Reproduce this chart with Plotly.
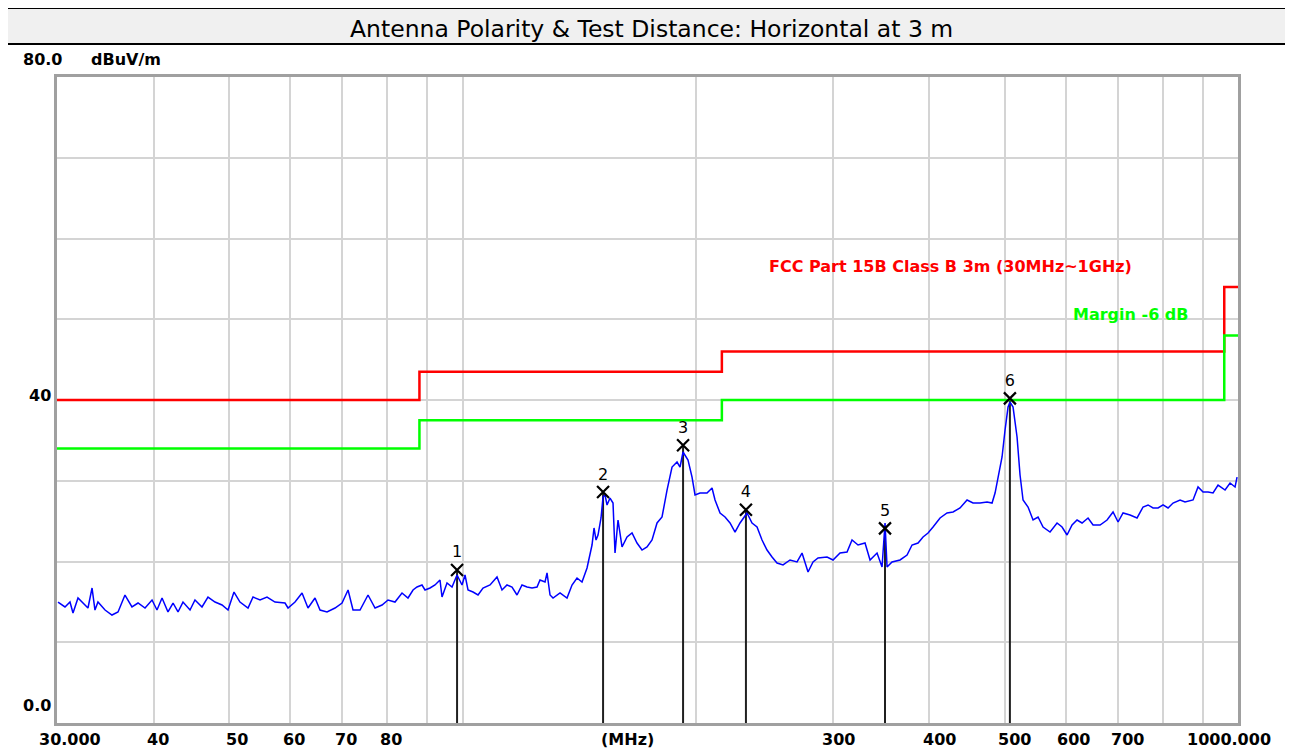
import numpy as np
import plotly.graph_objects as go

# measured trace (MHz, dBuV/m)
trace_freq = [
    30.09, 30.72, 31.18, 31.46, 31.93, 32.41, 32.89, 33.29, 33.58, 33.88,
    34.60, 35.32, 35.96, 36.71, 37.48, 38.16, 38.96, 39.78, 40.37, 40.98,
    41.71, 42.34, 42.97, 43.61, 44.53, 45.19, 46.14, 46.97, 47.96, 48.97,
    49.85, 50.74, 51.65, 52.90, 53.69, 54.82, 55.97, 57.31, 59.04, 59.57,
    60.82, 62.10, 63.21, 64.54, 65.51, 66.88, 68.49, 69.93, 71.19, 72.25,
    73.77, 75.54, 77.13, 78.75, 80.16, 81.84, 83.56, 85.06, 86.34, 87.37,
    88.67, 89.47, 90.81, 92.16, 93.54, 94.10, 95.51, 96.94, 98.39, 99.86,
    100.75, 101.65, 103.17, 104.72, 106.28, 108.52, 110.79, 112.45, 114.13, 115.84,
    117.57, 119.33, 121.12, 122.93, 124.77, 125.88, 127.77, 128.53, 129.68, 130.84,
    133.59, 136.39, 138.43, 140.50, 142.60, 144.74, 146.03, 146.90, 147.78, 148.66,
    149.54, 150.88, 151.78, 152.68, 153.59, 154.97, 156.35, 157.28, 158.69, 160.59,
    162.99, 165.43, 167.90, 170.41, 172.96, 175.55, 178.18, 180.84, 183.55, 186.29,
    189.08, 190.77, 192.48, 195.35, 197.69, 199.46, 202.44, 206.69, 209.79, 211.66,
    214.83, 218.04, 221.30, 224.61, 227.97, 232.76, 236.24, 239.77, 243.36, 247.00,
    250.69, 254.44, 259.02, 264.46, 270.01, 274.05, 278.98, 283.15, 287.38, 295.17,
    300.47, 306.78, 313.23, 317.91, 323.63, 330.42, 335.37, 342.41, 347.53, 350.64,
    352.73, 358.01, 366.62, 374.32, 379.91, 386.75, 392.53, 398.40, 404.36, 412.85,
    421.52, 429.10, 438.11, 447.31, 455.35, 464.92, 474.68, 481.78, 486.09, 490.44,
    496.30, 500.74, 505.22, 508.23, 512.78, 518.90, 523.54, 528.23, 536.13, 544.15,
    552.29, 560.55, 572.32, 584.34, 593.08, 601.95, 610.95, 620.09, 629.36, 640.68,
    650.26, 663.92, 677.86, 690.05, 700.37, 710.84, 725.77, 741.02, 754.34, 765.62,
    777.07, 788.70, 800.49, 812.46, 824.62, 841.94, 854.53, 875.07, 888.16, 901.45,
    914.93, 928.62, 942.50, 962.30, 976.70, 991.31, 997.20,
]
trace_level = [
    14.98, 14.37, 14.98, 13.62, 15.48, 14.86, 14.24, 16.72, 13.99, 14.98,
    13.99, 13.37, 13.75, 15.85, 14.37, 14.86, 14.24, 15.23, 13.99, 15.48,
    13.75, 14.86, 13.75, 14.98, 13.99, 15.23, 14.37, 15.60, 14.98, 14.61,
    13.99, 16.22, 14.98, 14.24, 15.60, 15.23, 15.60, 14.98, 14.86, 14.24,
    14.98, 16.10, 14.24, 15.48, 13.99, 13.75, 14.24, 14.86, 16.47, 13.99,
    13.99, 15.85, 14.24, 14.61, 15.23, 14.98, 16.10, 15.48, 16.47, 16.84,
    17.09, 16.47, 16.72, 17.09, 17.71, 15.60, 17.34, 16.84, 18.33, 17.09,
    18.33, 16.47, 16.22, 15.85, 16.72, 17.09, 18.08, 16.47, 17.09, 16.84,
    15.85, 17.09, 16.84, 16.72, 16.84, 17.71, 17.46, 18.58, 15.85, 15.48,
    16.10, 15.48, 17.09, 17.96, 17.46, 19.20, 20.80, 22.04, 24.15, 22.66,
    23.28, 25.39, 27.99, 28.24, 27.00, 27.86, 27.24, 21.05, 25.14, 21.80,
    23.03, 23.53, 22.29, 21.42, 21.80, 22.66, 24.77, 25.51, 28.85, 31.70,
    32.32, 31.70, 33.56, 32.57, 30.46, 28.24, 28.48, 28.48, 29.10, 27.62,
    26.01, 25.51, 24.77, 23.65, 24.77, 26.01, 24.77, 24.27, 22.66, 21.42,
    20.56, 19.81, 19.57, 20.19, 19.94, 21.05, 18.70, 19.94, 20.43, 20.56,
    20.19, 21.05, 21.18, 22.66, 22.04, 22.29, 20.19, 21.05, 19.32, 24.77,
    19.32, 19.94, 20.19, 20.80, 22.04, 22.29, 23.03, 23.53, 24.27, 25.39,
    26.01, 26.13, 26.63, 27.62, 27.24, 27.24, 27.37, 27.24, 28.48, 30.46,
    32.94, 36.28, 39.13, 39.75, 39.13, 35.42, 30.71, 27.62, 26.75, 25.14,
    25.51, 24.27, 23.65, 24.77, 24.27, 23.28, 24.52, 25.14, 24.77, 25.39,
    24.52, 24.52, 25.14, 26.13, 24.89, 26.01, 25.76, 25.39, 26.75, 27.00,
    26.63, 26.63, 27.00, 26.63, 27.24, 27.62, 27.37, 27.62, 29.23, 28.61,
    28.61, 28.48, 29.47, 28.85, 29.72, 29.23, 30.46,
]

# FCC Part 15B Class B 3 m limit and -6 dB margin (step lines)
limit_freq = [30, 88, 216, 960, 1000]
limit_level = [40.0, 43.5, 46.0, 54.0, 54.0]
margin_level = [34.0, 37.5, 40.0, 48.0, 48.0]

# marked peaks
marker_no = ["1", "2", "3", "4", "5", "6"]
marker_freq = [98.4, 151.8, 192.5, 232.0, 350.6, 508.0]
marker_level = [18.95, 28.6, 34.4, 26.4, 24.1, 40.2]

grid_freq = [40, 50, 60, 70, 80, 90, 100, 200, 300, 400, 500, 600, 700, 800, 900]
xlabel_freq = [30, 40, 50, 60, 70, 80, 163, 300, 400, 500, 600, 700, 1000]
xlabel_text = ["30.000", "40", "50", "60", "70", "80", "(MHz)",
               "300", "400", "500", "600", "700", "1000.000"]
xlabel_shift = [13, 4, 8, 4, 4, 4, 0, 6, 10, 10, 8, 10, -9]

# the page body has an 8 px margin, so the figure is placed at (8, 8)
OFF = 8
W, H = 1293 - OFF, 749 - OFF
L, R, T, B = 57 - OFF, 1238 - OFF, 77 - OFF, 723 - OFF


def px(x):
    return (x - OFF - L) / (R - L)


def py(y):
    return (B - (y - OFF)) / (B - T)


BOLD = "DejaVu Sans"
BSIZE = 16
fig = go.Figure()

# marker drop lines
lx, ly = [], []
for f, v in zip(marker_freq, marker_level):
    lx += [f, f, None]
    ly += [0, v, None]
fig.add_trace(go.Scatter(x=lx, y=ly, mode="lines",
                         line=dict(color="#202020", width=2), hoverinfo="skip"))

fig.add_trace(go.Scatter(x=limit_freq, y=limit_level, mode="lines",
                         line=dict(color="#ff0000", width=2.5, shape="hv")))
fig.add_trace(go.Scatter(x=limit_freq, y=margin_level, mode="lines",
                         line=dict(color="#00ff00", width=2.5, shape="hv")))

fig.add_trace(go.Scatter(x=trace_freq, y=trace_level, mode="lines",
                         line=dict(color="#0000ff", width=1.5)))

fig.add_trace(go.Scatter(
    x=marker_freq, y=marker_level, mode="markers+text",
    text=marker_no, textposition="top center",
    textfont=dict(family="DejaVu Sans", size=16, color="black"),
    marker=dict(symbol="x-thin-open", size=12, color="black",
                line=dict(color="black", width=2.2)),
))

# frame and title band
fig.add_shape(type="rect", xref="paper", yref="paper",
              x0=px(5), x1=px(1310), y0=py(44), y1=py(8),
              fillcolor="#f0f0f0", line=dict(color="black", width=2), layer="below")
fig.add_shape(type="line", xref="paper", yref="paper",
              x0=px(5), x1=px(5), y0=py(8), y1=py(770),
              line=dict(color="black", width=2))

ann = []
ann.append(dict(text="Antenna Polarity & Test Distance: Horizontal at 3 m",
                xref="paper", yref="paper", x=px(651), y=py(29),
                xanchor="center", yanchor="middle", showarrow=False,
                font=dict(family="DejaVu Sans", size=23.5, color="black")))
ann.append(dict(text="80.0", xref="paper", yref="paper", x=px(21), y=py(60),
                xanchor="left", yanchor="middle", showarrow=False,
                font=dict(family=BOLD, size=BSIZE, color="black", weight="bold")))
ann.append(dict(text="dBuV/m", xref="paper", yref="paper", x=px(89), y=py(60),
                xanchor="left", yanchor="middle", showarrow=False,
                font=dict(family=BOLD, size=BSIZE, color="black", weight="bold")))
ann.append(dict(text="40", xref="paper", yref="y", x=px(53), y=40, yshift=5,
                xanchor="right", yanchor="middle", showarrow=False,
                font=dict(family=BOLD, size=BSIZE, color="black", weight="bold")))
ann.append(dict(text="0.0", xref="paper", yref="y", x=px(53), y=0, yshift=18,
                xanchor="right", yanchor="middle", showarrow=False,
                font=dict(family=BOLD, size=BSIZE, color="black", weight="bold")))
for f, t, s in zip(xlabel_freq, xlabel_text, xlabel_shift):
    ann.append(dict(text=t, xref="x", yref="paper", x=np.log10(f), y=py(739),
                    xshift=s, xanchor="center", yanchor="middle", showarrow=False,
                    font=dict(family=BOLD, size=BSIZE, color="black", weight="bold")))
ann.append(dict(text="FCC Part 15B Class B 3m (30MHz~1GHz)", xref="paper", yref="paper",
                x=px(767), y=py(266), xanchor="left", yanchor="middle", showarrow=False,
                font=dict(family=BOLD, size=BSIZE, color="#ff0000", weight="bold")))
ann.append(dict(text="Margin -6 dB", xref="paper", yref="paper",
                x=px(1071), y=py(314), xanchor="left", yanchor="middle", showarrow=False,
                font=dict(family=BOLD, size=BSIZE, color="#00ff00", weight="bold")))

fig.update_layout(
    width=W, height=H,
    margin=dict(l=L, r=W - R, t=T, b=H - B),
    paper_bgcolor="white", plot_bgcolor="white",
    showlegend=False,
    annotations=ann,
    xaxis=dict(type="log", range=[np.log10(30), np.log10(1000)],
               tickvals=grid_freq, showticklabels=False, ticks="",
               showgrid=True, gridcolor="#d4d4d4", gridwidth=2,
               showline=True, mirror=True, linecolor="#a0a0a0", linewidth=3,
               zeroline=False),
    yaxis=dict(range=[0, 80], dtick=10, showticklabels=False, ticks="",
               showgrid=True, gridcolor="#d4d4d4", gridwidth=2,
               showline=True, mirror=True, linecolor="#a0a0a0", linewidth=3,
               zeroline=False),
)

fig.write_html("out.html")
